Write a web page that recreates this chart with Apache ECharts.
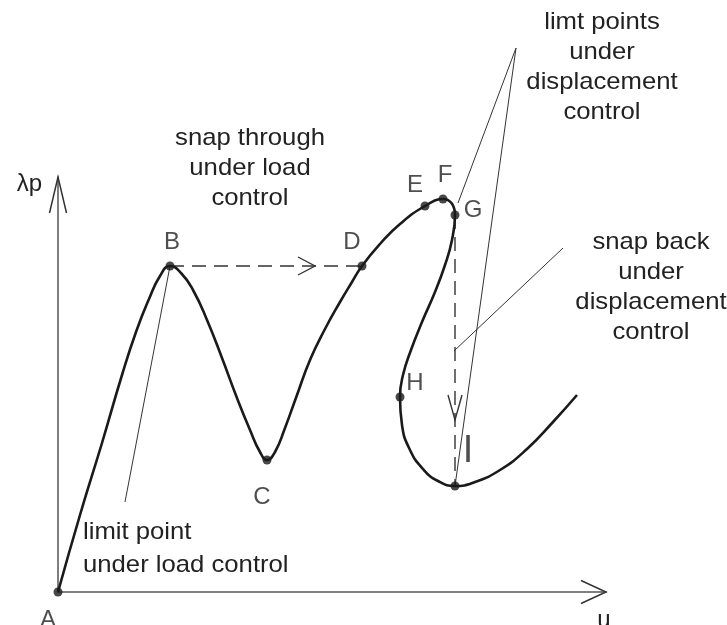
<!DOCTYPE html>
<html>
<head>
<meta charset="utf-8">
<script src="https://cdn.jsdelivr.net/npm/echarts@6/dist/echarts.min.js"></script>
<style>
html, body { margin: 0; padding: 0; background: #fff; }
#chart { width: 727px; height: 625px; }
</style>
</head>
<body>
<div id="chart"></div>
<script>
// equilibrium path, u and λp (arbitrary units)
const pathU = [0, 22, 44, 64, 78, 91, 102, 112, 123, 135, 149, 164, 179, 192, 202, 209, 217, 227, 239, 252, 267, 282, 294, 304, 322, 342, 367, 385, 397, 394, 387, 377, 364, 353, 345, 342, 344, 352, 365, 380, 397, 417, 442, 469, 495, 519];
const pathL = [0, 77, 149, 217, 260, 293, 316, 326, 319, 302, 272, 234, 194, 162, 140, 132, 140, 164, 197, 232, 263, 290, 310, 326, 348, 368, 386, 393, 377, 352, 327, 300, 270, 242, 217, 195, 167, 142, 123, 111, 106, 110, 122, 143, 170, 197];

// marked points
const pointNames = ['A', 'B', 'C', 'D', 'E', 'F', 'G', 'H', 'I'];
const pointU = [0, 112, 209, 304, 367, 385, 397, 342, 397];
const pointL = [0, 326, 132, 326, 386, 393, 377, 195, 106];

// leader lines of the notes
const leaderLoad = [[112, 326], [67, 90]];
const leaderLimits = [[400, 389], [458, 544], [397, 106]];
const leaderSnapBack = [[505, 344], [396, 241]];

// where the arrow heads sit on the dashed jumps
const throughTip = [257, 326];
const backTip = [397, 172];

const uMax = 548, lMax = 415;

// label offsets in px
const labelOffset = {
  A: [-10, 28], B: [2, -24], C: [-5, 37], D: [-10, -24], E: [-10, -21],
  F: [2, -24], G: [18, -5], H: [15, -14], I: [13, -34]
};

const pt = n => { const i = pointNames.indexOf(n); return [pointU[i], pointL[i]]; };
const FONT = '"Liberation Sans", Arial, sans-serif';

const chart = echarts.init(document.getElementById('chart'));

const thinLine = data => ({
  type: 'line', data: data, symbol: 'none', clip: false, silent: true, z: 2,
  lineStyle: { color: '#333', width: 1 }
});
const dashLine = data => ({
  type: 'line', data: data, symbol: 'none', clip: false, silent: true, z: 2,
  lineStyle: { color: '#333', width: 1.4, type: [14, 8] }
});

chart.setOption({
  animation: false,
  grid: { left: 58, top: 177, right: 121, bottom: 33 },
  xAxis: {
    type: 'value', min: 0, max: uMax,
    axisLine: { show: true, lineStyle: { color: '#555', width: 1.5 } },
    axisTick: { show: false }, axisLabel: { show: false }, splitLine: { show: false }
  },
  yAxis: {
    type: 'value', min: 0, max: lMax,
    axisLine: { show: true, lineStyle: { color: '#555', width: 1.5 } },
    axisTick: { show: false }, axisLabel: { show: false }, splitLine: { show: false }
  },
  series: [
    thinLine(leaderLoad),
    thinLine(leaderLimits),
    thinLine(leaderSnapBack),
    dashLine([pt('B'), pt('D')]),
    dashLine([pt('G'), pt('I')]),
    {
      type: 'line', smooth: 0.5, symbol: 'none', clip: false, z: 3,
      data: pathU.map((u, i) => [u, pathL[i]]),
      lineStyle: { color: '#1a1a1a', width: 2.6 }
    },
    {
      type: 'scatter', symbolSize: 9, z: 4,
      itemStyle: { color: '#1a1a1a' },
      label: {
        show: true, position: 'inside', formatter: '{b}',
        fontFamily: FONT, fontSize: 24, color: '#222', align: 'center', verticalAlign: 'middle'
      },
      data: pointNames.map((n, i) => ({
        name: n, value: [pointU[i], pointL[i]],
        label: n === 'I' ? { offset: labelOffset[n], fontSize: 38 } : { offset: labelOffset[n] }
      }))
    }
  ]
});

// open V arrow heads, tips taken from the axes / data
function vHead(tip, dir, len, half, width) {
  const p = chart.convertToPixel({ gridIndex: 0 }, tip);
  const nx = -dir[1], ny = dir[0];
  const bx = p[0] - dir[0] * len, by = p[1] - dir[1] * len;
  return {
    type: 'polyline', silent: true, z: 10,
    shape: { points: [[bx + nx * half, by + ny * half], p, [bx - nx * half, by - ny * half]] },
    style: { stroke: '#333', lineWidth: width, fill: null }
  };
}
function note(x, y, text, align, lh) {
  return {
    type: 'text', x: x, y: y, scaleX: 1.07, silent: true, z: 10,
    style: { text: text, font: '24px ' + FONT, fill: '#222', align: align, verticalAlign: 'top', lineHeight: lh }
  };
}

chart.setOption({
  graphic: [
    vHead([0, lMax], [0, -1], 36, 8.5, 1.5),
    vHead([uMax, 0], [1, 0], 25, 11.5, 1.5),
    vHead(throughTip, [1, 0], 17, 9, 1.4),
    vHead(backTip, [0, 1], 25, 7, 1.4),
    { type: 'text', x: 42, y: 184, silent: true,
      style: { text: 'λp', font: '24px ' + FONT, fill: '#222', align: 'right', verticalAlign: 'middle' } },
    { type: 'text', x: 604, y: 620, silent: true,
      style: { text: 'u', font: '24px ' + FONT, fill: '#222', align: 'center', verticalAlign: 'middle' } },
    note(250, 123, 'snap through\nunder load\ncontrol', 'center', 30),
    note(602, 7, 'limt points\nunder\ndisplacement\ncontrol', 'center', 30),
    note(651, 227, 'snap back\nunder\ndisplacement\ncontrol', 'center', 30),
    note(83, 516, 'limit point\nunder load control', 'left', 33)
  ]
});
</script>
</body>
</html>
